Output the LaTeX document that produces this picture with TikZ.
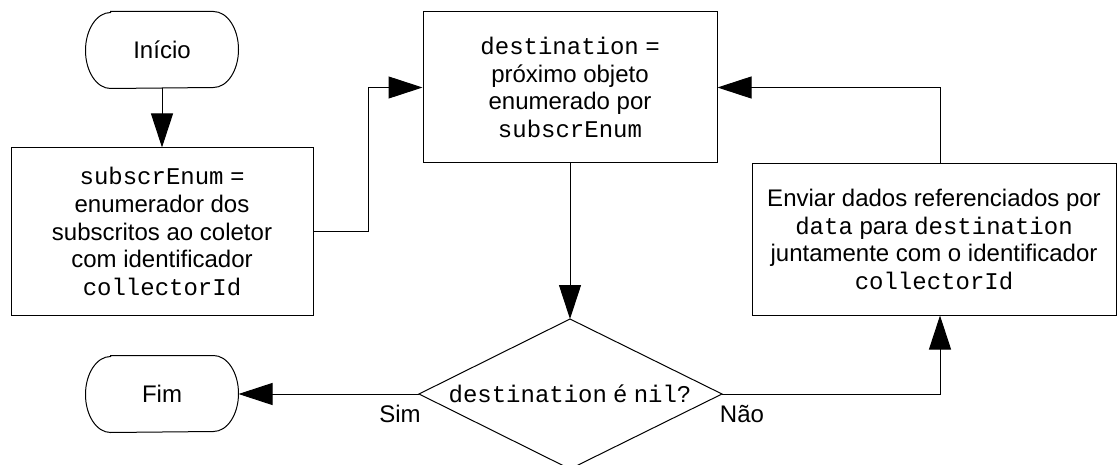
\documentclass[tikz,border=0pt]{standalone}
\usepackage{fontspec}
\setmainfont{Liberation Sans}
\setmonofont{Liberation Mono}
\usetikzlibrary{arrows.meta}
\begin{document}
\begin{tikzpicture}[x=1pt,y=-1pt,
  line width=1pt,
  txt/.style={font=\fontsize{24}{27.6}\selectfont, align=center, inner sep=0pt},
  procbox/.style={draw, rectangle, txt},
  term/.style={rectangle, minimum width=152pt, minimum height=76pt, txt},
  flow/.style={-{Triangle[length=34pt,width=22pt]}},
  lbl/.style={font=\fontsize{24}{27.6}\selectfont, inner sep=0pt, anchor=base}]
\useasboundingbox (0,0) rectangle (1118,465);

% terminal outline: straight top/bottom with elliptic ends
\newcommand{\drawterminal}[1]{%
  \draw ([xshift=25pt]#1.north west) -- ([xshift=-25pt]#1.north east)
    arc[start angle=90, end angle=-90, x radius=25pt, y radius=38pt]
    -- ([xshift=25pt]#1.south west)
    arc[start angle=270, end angle=90, x radius=25pt, y radius=38pt] -- cycle;}

% start / end terminals
\node[term] (start) at (162,50) {Início};
\drawterminal{start}
\node[term] (fim) at (162,394) {Fim};
\drawterminal{fim}

% process boxes
\node[procbox, minimum width=302pt, minimum height=167pt] (subs) at (162,231.5)
  {\texttt{subscrEnum} =\\ enumerador dos\\ subscritos ao coletor\\ com identificador\\ \texttt{collectorId}};
\node[procbox, minimum width=294pt, minimum height=151pt] (dest) at (570,87.5)
  {\texttt{destination} =\\ próximo objeto\\ enumerado por\\ \texttt{subscrEnum}};
\node[procbox, minimum width=364pt, minimum height=151pt] (send) at (934,239.5)
  {Enviar dados referenciados por\\ \texttt{data} para \texttt{destination}\\ juntamente com o identificador\\ \texttt{collectorId}};

% decision
\coordinate (dn) at (570,319);
\coordinate (dw) at (419,394);
\coordinate (de) at (722,394);
\coordinate (ds) at (570,469);
\draw (dn) -- (de) -- (ds) -- (dw) -- cycle;
\node[txt] (cond) at (570,394) {\texttt{destination} é \texttt{nil?}};

% connectors
\coordinate (sendlink) at (940,0);
\draw[flow] (start) -- (subs);
\draw[flow] (subs.east) -- ++(55,0) |- (dest.west);
\draw[flow] (dest.south) -- (dn);
\draw[flow] (dw) -- (fim.east);
\draw[flow] (de) -| (sendlink |- send.south);
\draw[flow] (sendlink |- send.north) |- (dest.east);

% branch labels
\node[lbl] (sim) at (400,422) {Sim};
\node[lbl] (nao) at (742,422) {Não};
\end{tikzpicture}
\end{document}
